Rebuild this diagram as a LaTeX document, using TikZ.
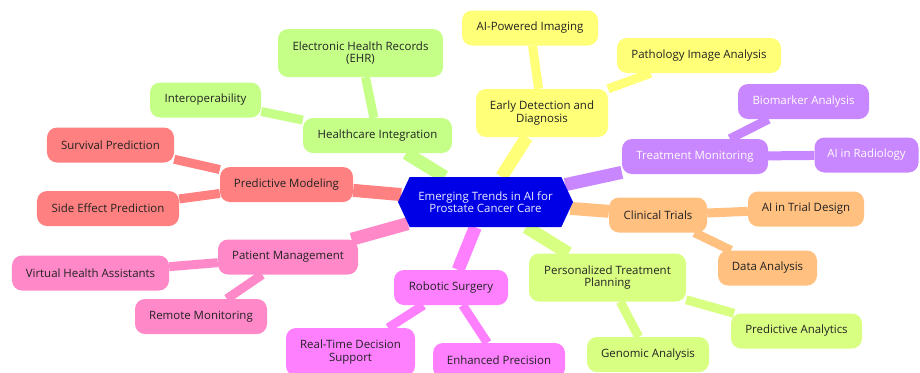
\documentclass[tikz,border=0pt]{standalone}
\usepackage{fontspec}
\setmainfont{Open Sans}
\usepackage{tikz}
\usetikzlibrary{positioning, shapes.symbols, backgrounds}
\definecolor{rootblue}{RGB}{0,0,230}
\definecolor{roottext}{RGB}{236,236,255}
\definecolor{textdark}{RGB}{34,34,34}
\definecolor{modred}{RGB}{255,128,128}
\definecolor{intgreen}{RGB}{197,255,136}
\definecolor{detyellow}{RGB}{255,255,120}
\definecolor{monpurple}{RGB}{200,134,255}
\definecolor{trialorange}{RGB}{255,192,128}
\definecolor{plangreen}{RGB}{217,255,130}
\definecolor{surgmagenta}{RGB}{255,128,255}
\definecolor{patpink}{RGB}{255,136,200}

\begin{document}
\begin{tikzpicture}[x=1bp, y=-1bp,
  box/.style={rounded corners=10bp, inner sep=0pt, align=center, text=textdark, font=\fontsize{11.5}{12.5}\selectfont, minimum height=35bp},
  tall/.style={box, minimum height=48bp}]
\def\rootEdge{13bp}
\def\leafEdge{9bp}
\useasboundingbox (0,0) rectangle (920,372);

%Root
\node (root) at (485.5,202) [signal, signal to=east and west, signal pointer angle=130, fill=rootblue, text=roottext, minimum width=175bp, minimum height=50bp, align=center, inner sep=0pt, font=\fontsize{11.5}{12.5}\selectfont] {Emerging Trends in AI for\\Prostate Cancer Care};

%First level
\node (hi) at (377.5,135.5) [box, fill=intgreen, minimum width=149bp] {Healthcare Integration};
\node (edd) at (542,113) [tall, fill=detyellow, minimum width=132bp] {Early Detection and\\Diagnosis};
\node (tm) at (695,156.5) [box, fill=monpurple, text=white, minimum width=146bp] {Treatment Monitoring};
\node (ct) at (658,215) [box, fill=trialorange, minimum width=98bp] {Clinical Trials};
\node (ptp) at (607.5,277.5) [tall, fill=plangreen, minimum width=157bp] {Personalized Treatment\\Planning};
\node (rs) at (451,287.5) [box, fill=surgmagenta, minimum width=114bp] {Robotic Surgery};
\node (pm) at (288,257) [box, fill=patpink, minimum width=140bp] {Patient Management};
\node (pmod) at (286.5,184.5) [box, fill=modred, minimum width=133bp] {Predictive Modeling};

%Second level
\node (ehr) at (360.5,53) [tall, fill=intgreen, minimum width=165bp] {Electronic Health Records\\(EHR)};
\node (interop) at (205.5,100) [box, fill=intgreen, minimum width=111bp] {Interoperability};
\node (aiimg) at (530,28) [box, fill=detyellow, minimum width=136bp] {AI-Powered Imaging};
\node (path) at (699,55.5) [box, fill=detyellow, minimum width=164bp] {Pathology Image Analysis};
\node (bio) at (803.5,101.5) [box, fill=monpurple, text=white, minimum width=131bp] {Biomarker Analysis};
\node (airad) at (866.5,155) [box, fill=monpurple, text=white, minimum width=104bp] {AI in Radiology};
\node (trial) at (806,209) [box, fill=trialorange, minimum width=116bp] {AI in Trial Design};
\node (data) at (767.5,268) [box, fill=trialorange, minimum width=99bp] {Data Analysis};
\node (predan) at (796.5,331) [box, fill=plangreen, minimum width=131bp] {Predictive Analytics};
\node (genomic) at (648,354.5) [box, fill=plangreen, minimum width=122bp] {Genomic Analysis};
\node (rtds) at (350.5,352) [tall, fill=surgmagenta, minimum width=129bp] {Real-Time Decision\\Support};
\node (enh) at (499,360.5) [box, fill=surgmagenta, minimum width=132bp] {Enhanced Precision};
\node (vha) at (90.5,273) [box, fill=patpink, minimum width=157bp] {Virtual Health Assistants};
\node (remote) at (201,316.5) [box, fill=patpink, minimum width=132bp] {Remote Monitoring};
\node (surv) at (110.5,145) [box, fill=modred, minimum width=127bp] {Survival Prediction};
\node (side) at (108,208.5) [box, fill=modred, minimum width=142bp] {Side Effect Prediction};

\begin{scope}[on background layer]
\draw [intgreen, line width=\rootEdge] (root) -- (hi);
\draw [detyellow, line width=\rootEdge] (root) -- (edd);
\draw [monpurple, line width=\rootEdge] (root) -- (tm);
\draw [trialorange, line width=\rootEdge] (root) -- (ct);
\draw [plangreen, line width=\rootEdge] (root) -- (ptp);
\draw [surgmagenta, line width=\rootEdge] (root) -- (rs);
\draw [patpink, line width=\rootEdge] (root) -- (pm);
\draw [modred, line width=\rootEdge] (root) -- (pmod);

\draw [intgreen, line width=\leafEdge] (hi) -- (ehr);
\draw [intgreen, line width=\leafEdge] (hi) -- (interop);
\draw [detyellow, line width=\leafEdge] (edd) -- (aiimg);
\draw [detyellow, line width=\leafEdge] (edd) -- (path);
\draw [monpurple, line width=\leafEdge] (tm) -- (bio);
\draw [monpurple, line width=\leafEdge] (tm) -- (airad);
\draw [trialorange, line width=\leafEdge] (ct) -- (trial);
\draw [trialorange, line width=\leafEdge] (ct) -- (data);
\draw [plangreen, line width=\leafEdge] (ptp) -- (predan);
\draw [plangreen, line width=\leafEdge] (ptp) -- (genomic);
\draw [surgmagenta, line width=\leafEdge] (rs) -- (rtds);
\draw [surgmagenta, line width=\leafEdge] (rs) -- (enh);
\draw [patpink, line width=\leafEdge] (pm) -- (vha);
\draw [patpink, line width=\leafEdge] (pm) -- (remote);
\draw [modred, line width=\leafEdge] (pmod) -- (surv);
\draw [modred, line width=\leafEdge] (pmod) -- (side);
\end{scope}

\end{tikzpicture}
\end{document}
